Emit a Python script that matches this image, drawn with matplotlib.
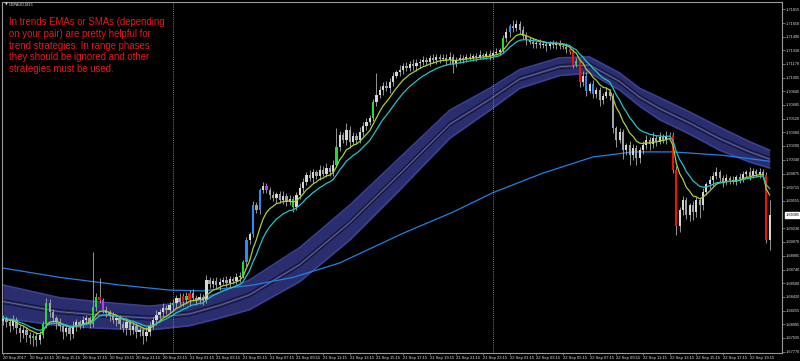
import matplotlib.pyplot as plt
import matplotlib.transforms as mtransforms
import numpy as np
import pandas as pd
from matplotlib import font_manager

symbol = "GBPAUD,M15"
first_bar = "2017-09-20 11:15"
note = ("In trends EMAs or SMAs (depending\n"
        "on your pair) are pretty helpful for\n"
        "trend strategies. In range phases\n"
        "they should be ignored and other\n"
        "strategies must be used.")

first_open = 1.6814
closes = [
    1.6817, 1.6812, 1.6808, 1.6815, 1.6805, 1.6799, 1.6803, 1.6797, 1.6793, 1.6796,
    1.6791, 1.6797, 1.6810, 1.6835, 1.6824, 1.6817, 1.6812, 1.6808, 1.6801, 1.6805,
    1.6798, 1.6808, 1.6812, 1.6809, 1.6815, 1.6817, 1.6810, 1.6830, 1.6842, 1.6838,
    1.6827, 1.6823, 1.6819, 1.6815, 1.6817, 1.6810, 1.6805, 1.6812, 1.6803, 1.6808,
    1.6801, 1.6803, 1.6796, 1.6801, 1.6808, 1.6815, 1.6821, 1.6824, 1.6829, 1.6827,
    1.6832, 1.6835, 1.6841, 1.6836, 1.6843, 1.6838, 1.6847, 1.6841, 1.6838, 1.6842,
    1.6838, 1.6862, 1.6857, 1.6861, 1.6856, 1.6860, 1.6862, 1.6858, 1.6863, 1.6861,
    1.6865, 1.6867, 1.6883, 1.6909, 1.6916, 1.6950, 1.6945, 1.6968, 1.6973, 1.6968,
    1.6962, 1.6959, 1.6963, 1.6956, 1.6961, 1.6954, 1.6958, 1.6948, 1.6962, 1.6971,
    1.6978, 1.6986, 1.6982, 1.6989, 1.6985, 1.6992, 1.6987, 1.6994, 1.6989, 1.6998,
    1.7019, 1.7033, 1.7027, 1.7039, 1.7025, 1.7032, 1.7027, 1.7036, 1.7044, 1.7048,
    1.7053, 1.7072, 1.7080, 1.7086, 1.7091, 1.7088, 1.7095, 1.7103, 1.7107, 1.7110,
    1.7114, 1.7112, 1.7117, 1.7114, 1.7118, 1.7119, 1.7121, 1.7119, 1.7124, 1.7121,
    1.7125, 1.7123, 1.7124, 1.7121, 1.7125, 1.7117, 1.7121, 1.7124, 1.7123, 1.7125,
    1.7124, 1.7126, 1.7125, 1.7127, 1.7126, 1.7128, 1.7126, 1.7130, 1.7131, 1.7133,
    1.7147, 1.7154, 1.7161, 1.7159, 1.7164, 1.7157, 1.7150, 1.7145, 1.7143, 1.7140,
    1.7141, 1.7139, 1.7140, 1.7138, 1.7140, 1.7139, 1.7141, 1.7138, 1.7137, 1.7134,
    1.7131, 1.7116, 1.7120, 1.7095, 1.7103, 1.7085, 1.7093, 1.7081, 1.7086, 1.7074,
    1.7079, 1.7084, 1.7079, 1.7041, 1.7027, 1.7036, 1.7015, 1.7021, 1.7009, 1.7018,
    1.7006, 1.7015, 1.7021, 1.7027, 1.7022, 1.7029, 1.7025, 1.7031, 1.7027, 1.7032,
    1.7033, 1.6992, 1.6926, 1.6945, 1.6956, 1.6939, 1.6950, 1.6942, 1.6956, 1.6950,
    1.6966, 1.6975, 1.6980, 1.6985, 1.6989, 1.6982, 1.6978, 1.6982, 1.6980, 1.6978,
    1.6983, 1.6981, 1.6987, 1.6989, 1.6985, 1.6990, 1.6987, 1.6989, 1.6986, 1.6909,
    1.69385,
]

# wick lengths above / below the body, in pips
wick_hi = [
    4, 3, 5, 6, 3, 4, 5, 3, 4, 3,  4, 5, 3, 6, 5, 4, 3, 5, 3, 4,
    3, 5, 4, 3, 5, 4, 3, 65, 4, 22,  3, 4, 3, 5, 3, 4, 3, 5, 3, 4,
    3, 4, 3, 5, 4, 3, 5, 4, 6, 3,  4, 5, 3, 6, 4, 5, 3, 4, 3, 5,
    3, 6, 4, 3, 5, 4, 3, 5, 4, 3,  5, 4, 3, 4, 3, 5, 4, 3, 5, 3,
    4, 5, 3, 4, 6, 3, 4, 3, 4, 5,  4, 3, 6, 4, 3, 5, 4, 6, 3, 5,
    22, 5, 4, 8, 4, 5, 3, 6, 4, 5,  4, 3, 26, 5, 4, 6, 5, 4, 3, 5,
    4, 5, 3, 6, 4, 3, 5, 4, 3, 5,  4, 3, 5, 4, 6, 3, 4, 5, 3, 4,
    5, 3, 4, 6, 3, 4, 5, 3, 4, 3,  4, 5, 3, 7, 4, 3, 5, 4, 3, 4,
    3, 5, 4, 3, 4, 5, 3, 4, 3, 4,  4, 3, 4, 3, 5, 4, 3, 5, 4, 3,
    4, 5, 3, 4, 3, 5, 4, 3, 5, 4,  3, 4, 5, 6, 4, 7, 4, 5, 3, 6,
    4, 3, 4, 3, 5, 4, 3, 5, 4, 3,  4, 3, 5, 4, 6, 3, 4, 5, 3, 4,
    3, 5, 4, 3, 6, 4, 3, 5, 4, 3,  18,
]
wick_lo = [
    5, 6, 8, 4, 7, 10, 6, 8, 6, 9,  7, 5, 4, 5, 6, 5, 8, 6, 9, 5,
    7, 4, 6, 5, 4, 6, 5, 4, 5, 3,  4, 5, 6, 4, 7, 6, 5, 8, 6, 5,
    7, 5, 9, 6, 5, 4, 6, 5, 4, 5,  4, 5, 6, 4, 5, 3, 6, 4, 5, 4,
    5, 3, 4, 5, 4, 6, 3, 4, 5, 4,  4, 5, 3, 4, 5, 3, 4, 5, 3, 4,
    5, 4, 6, 3, 4, 5, 4, 6, 3, 4,  5, 4, 3, 6, 4, 5, 3, 4, 5, 4,
    3, 5, 4, 6, 7, 4, 5, 3, 4, 5,  3, 4, 5, 4, 6, 3, 5, 4, 3, 4,
    5, 4, 3, 4, 5, 6, 3, 4, 5, 3,  4, 5, 3, 6, 4, 11, 4, 3, 5, 4,
    3, 4, 5, 3, 4, 3, 5, 4, 3, 4,  3, 4, 5, 4, 3, 5, 4, 6, 3, 4,
    5, 3, 4, 6, 4, 3, 5, 4, 3, 4,  3, 4, 3, 5, 4, 6, 3, 5, 4, 7,
    4, 3, 5, 6, 8, 4, 10, 6, 12, 5,  9, 6, 4, 5, 7, 4, 5, 3, 4, 5,
    3, 4, 11, 8, 6, 5, 7, 9, 6, 15,  5, 4, 6, 7, 4, 5, 6, 4, 5, 3,
    4, 5, 3, 4, 5, 3, 4, 5, 3, 3,  12,
]

# bars highlighted by the signal indicator
signal_bars = {
    "green": [9, 12, 13, 27, 28, 51, 55, 72, 87, 100, 111, 150, 172],
    "blue": [73, 75, 77, 152, 175, 177],
    "red": [29, 54, 56, 170, 171, 173, 200, 201, 202, 229],
    "magenta": [30, 79],
}

# slow moving average (blue line), read at these bars
slow_ma_bars = [0, 17, 35, 50, 60, 75, 87, 101, 120, 135, 147, 162, 177, 189, 201, 216, 230]
slow_ma = [1.6876, 1.6865, 1.6856, 1.6850, 1.6849, 1.6856, 1.6865, 1.6882, 1.6917,
           1.6942, 1.6965, 1.6988, 1.7007, 1.7013, 1.7013, 1.7009, 1.7002]

# channel band, read at these bars
band_bars = [0, 17, 29, 44, 56, 65, 74, 89, 104, 119, 134, 146, 155, 167, 176, 185,
             191, 197, 206, 215, 224, 230]
band_top = [1.6856, 1.6841, 1.6836, 1.6831, 1.6836, 1.6847, 1.6862, 1.6900, 1.6950,
            1.7006, 1.7062, 1.7088, 1.7110, 1.7124, 1.7125, 1.7106, 1.7088, 1.7077,
            1.7060, 1.7042, 1.7025, 1.7015]
band_bottom = [1.6817, 1.6808, 1.6805, 1.6803, 1.6808, 1.6817, 1.6827, 1.6860, 1.6909,
               1.6968, 1.7029, 1.7062, 1.7088, 1.7103, 1.7106, 1.7086, 1.7067, 1.7051,
               1.7034, 1.7015, 1.7001, 1.6994]

price_ticks = [1.71815, 1.71650, 1.71490, 1.71330, 1.71170, 1.71005, 1.70845, 1.70685,
               1.70520, 1.70360, 1.70200, 1.70040, 1.69875, 1.69715, 1.69555, 1.69230,
               1.69070, 1.68905, 1.68740, 1.68580, 1.68420, 1.68255, 1.68095, 1.67935,
               1.67770]

fast_span = 8
mid_span = 14

colours = {"green": "#1fdc3c", "blue": "#2b8df2", "red": "#ff0a0a", "magenta": "#c233ff"}


def first_font(names):
    for name in names:
        try:
            font_manager.findfont(font_manager.FontProperties(family=name),
                                  fallback_to_default=False)
            return name
        except ValueError:
            continue
    return "DejaVu Sans"


narrow = first_font(["Liberation Sans Narrow", "Liberation Sans", "Roboto"])


def fit_width(texts, renderer, max_px):
    widest = max(t.get_window_extent(renderer).width for t in texts)
    for t in texts:
        t.set_fontsize(t.get_fontsize() * max_px / widest)


closes = np.array(closes)
n = len(closes)
opens = np.concatenate([[first_open], closes[:-1]])
highs = np.maximum(opens, closes) + np.array(wick_hi) * 1e-4
lows = np.minimum(opens, closes) - np.array(wick_lo) * 1e-4
times = pd.date_range(first_bar, periods=n, freq="15min")
bars = np.arange(n)

fast_ema = pd.Series(closes).ewm(span=fast_span, adjust=False).mean()
mid_ema = pd.Series(closes).ewm(span=mid_span, adjust=False).mean()

fig = plt.figure(figsize=(8, 3.61), dpi=100, facecolor="black")
ax = fig.add_axes([2 / 800, 8 / 361, 780 / 800, 351 / 361], facecolor="black")

# channel band
band_top = np.array(band_top)
band_bottom = np.array(band_bottom)
band_mid = (band_top + band_bottom) / 2
ax.fill_between(band_bars, band_bottom, band_top, color="#2a2d6e", lw=0, zorder=1)
ax.plot(band_bars, band_top, color="#3c4092", lw=1.2, zorder=1.1)
ax.plot(band_bars, band_bottom, color="#3c4092", lw=1.2, zorder=1.1)
ax.plot(band_bars, band_mid + 0.00024, color="#14153a", lw=0.8, zorder=1.2)
ax.plot(band_bars, band_mid - 0.00024, color="#14153a", lw=0.8, zorder=1.2)
ax.plot(band_bars, band_mid, color="#6e6f86", lw=0.6, zorder=1.3)

# slow average
ax.plot(slow_ma_bars, slow_ma, color="#1f82e6", lw=0.9, zorder=2)

# candles
body_colours = np.where(closes >= opens, "#d6d6d6", "#a2a2a2").astype(object)
for name, idx in signal_bars.items():
    for i in idx:
        body_colours[i] = colours[name]
ax.vlines(bars, lows, highs, color="#ababab", lw=0.6, zorder=3)
body_low = np.minimum(opens, closes)
body_h = np.maximum(np.abs(closes - opens), 0.00005)
ax.bar(bars, body_h, bottom=body_low, width=0.7, color=list(body_colours), lw=0, zorder=3.1)

# fast averages
ax.plot(bars, fast_ema, color="#a9d12a", lw=0.9, zorder=4)
ax.plot(bars, mid_ema, color="#22c4c8", lw=0.9, zorder=4.1)

# day separators
for i in np.flatnonzero((times.hour == 0) & (times.minute == 0)):
    ax.axvline(i, color="#a0a0a0", lw=0.6, ls=(0, (1, 1.5)), zorder=2.5)

ax.set_xlim(-0.3, 233.7)
ax.set_ylim(1.67758, 1.71898)

for side in ax.spines.values():
    side.set_color("#9a9a9a")
    side.set_linewidth(0.8)

ax.yaxis.tick_right()
ax.set_yticks(price_ticks)
ax.set_yticklabels([f"{p:.5f}" for p in price_ticks], family=narrow, fontsize=3.4,
                   color="#e0e0e0")
ax.tick_params(axis="y", direction="out", length=2, width=0.5, color="#9a9a9a", pad=1)

date_ticks = bars[::8]
date_labels = [times[i].strftime("%d %b %H:%M") for i in date_ticks]
date_labels[0] = times[0].strftime("%d %b %Y")
ax.set_xticks(date_ticks)
ax.set_xticklabels(date_labels, family=narrow, fontsize=3.3, color="#e0e0e0", ha="left")
ax.tick_params(axis="x", direction="out", length=1.5, width=0.5, color="#9a9a9a", pad=1)

# bid price box
trans = mtransforms.blended_transform_factory(ax.transAxes, ax.transData)
bid = ax.text(1.005, closes[-1], f"{closes[-1]:.5f}", transform=trans, family=narrow,
              fontsize=3.4, color="black", va="center", ha="left", clip_on=False, zorder=10,
              bbox=dict(boxstyle="square,pad=0.2", fc="white", ec="white"))

# header and note
fig.text(5 / 800, 1 - 5 / 361, "\u25bc", fontsize=2.6, color="#d8d8d8", va="center",
         family="DejaVu Sans")
head = fig.text(9 / 800, 1 - 5 / 361, symbol, fontsize=3.3, color="#d8d8d8", va="center",
                family=narrow)
fig.text(9 / 800, 1 - 17 / 361, note, fontsize=6.9, color="#ee1518", va="top",
         ha="left", family=["Liberation Sans", "DejaVu Sans"], linespacing=1.22)

# shrink the small axis texts so they fit the space the terminal gives them
fig.canvas.draw()
renderer = fig.canvas.get_renderer()
fit_width(ax.get_xticklabels(), renderer, 24.5)
fit_width(ax.get_yticklabels() + [bid], renderer, 14.5)
fit_width([head], renderer, 25)

fig.savefig("out.png", dpi=100, facecolor="black")
